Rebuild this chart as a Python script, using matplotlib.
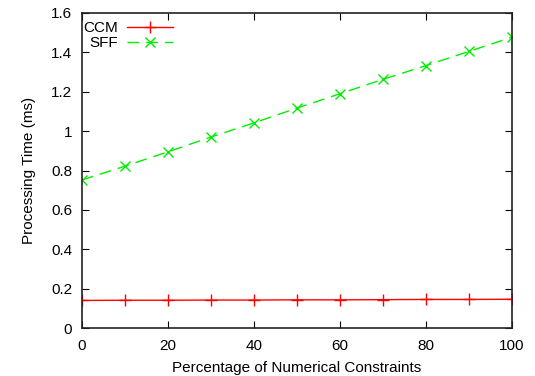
import matplotlib

matplotlib.use("Agg")
import matplotlib.pyplot as plt

plt.rcParams["font.family"] = ["Liberation Sans", "DejaVu Sans"]
plt.rcParams["font.size"] = 11

# --- data ---
pct = [0, 10, 20, 30, 40, 50, 60, 70, 80, 90, 100]
ccm = [0.140, 0.141, 0.141, 0.142, 0.142, 0.143, 0.143, 0.144, 0.145, 0.145, 0.146]
sff = [0.752, 0.822, 0.895, 0.970, 1.042, 1.117, 1.190, 1.263, 1.333, 1.405, 1.477]
xticks = [0, 20, 40, 60, 80, 100]
yticks = [0, 0.2, 0.4, 0.6, 0.8, 1.0, 1.2, 1.4, 1.6]
ylabels = ["0", "0.2", "0.4", "0.6", "0.8", "1", "1.2", "1.4", "1.6"]

fig = plt.figure(figsize=(5.35, 3.76), dpi=100)
ax = fig.add_axes([82 / 535, 1 - 328 / 376, 430 / 535, 315 / 376])

ax.plot(pct, ccm, color="#ff0000", lw=1.0, marker="+", ms=8, mew=1.0, label="CCM")
ax.plot(pct, sff, color="#00ee00", lw=1.0, ls=(0, (8.5, 5)), marker="x", ms=7.5,
        mew=1.0, label="SFF")

ax.set_xlim(0, 100)
ax.set_ylim(0, 1.6)
ax.set_xticks(xticks)
ax.set_yticks(yticks)
ax.set_yticklabels(ylabels)
ax.tick_params(direction="in", top=True, right=True, length=5, width=0.8)
ax.tick_params(axis="x", pad=8)
ax.tick_params(axis="y", pad=7)
for s in ax.spines.values():
    s.set_linewidth(1.2)
    s.set_color("#222222")

ax.set_xlabel("Percentage of Numerical Constraints", labelpad=5.5)
ax.set_ylabel("Processing Time (ms)", labelpad=11)

# legend: labels right-aligned, sample lines to their right (gnuplot style)
ax.legend(loc="upper right", frameon=False, markerfirst=False, handlelength=3.0,
          borderaxespad=0.0, borderpad=0.0, labelspacing=0.05, handletextpad=0.6,
          bbox_to_anchor=(0.2116, 0.974))

fig.savefig("out.png", dpi=100)
